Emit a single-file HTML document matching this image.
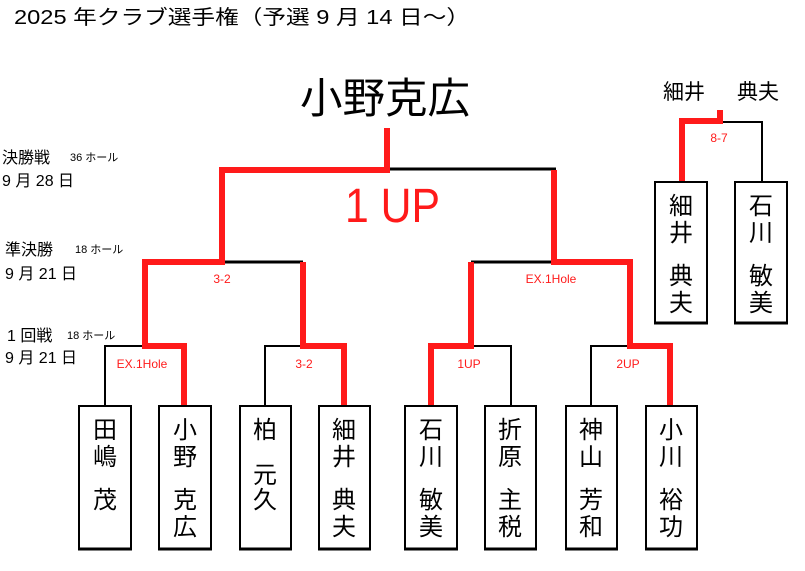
<!DOCTYPE html>
<html><head><meta charset="utf-8"><style>
html,body{margin:0;padding:0;background:#fff;}
svg{display:block;}
text{font-family:"Liberation Sans","Noto Sans CJK JP",sans-serif;}
</style></head><body>
<svg width="805" height="571" viewBox="0 0 805 571" xmlns="http://www.w3.org/2000/svg">
<rect width="805" height="571" fill="#fff"/>
<text x="14" y="24" font-size="20" fill="#000" textLength="456" lengthAdjust="spacingAndGlyphs">2025 年クラブ選手権（予選 9 月 14 日〜）</text>
<text x="300" y="113" font-size="42" fill="#000" textLength="170" lengthAdjust="spacingAndGlyphs">小野克広</text>

<text x="2" y="163" font-size="16">決勝戦</text><text x="70" y="161" font-size="11">36 ホール</text>
<text x="2" y="186" font-size="16">9 月 28 日</text>
<text x="5" y="255" font-size="16">準決勝</text><text x="75" y="253" font-size="11">18 ホール</text>
<text x="5" y="279" font-size="16">9 月 21 日</text>
<text x="7" y="341" font-size="16">1 回戦</text><text x="67" y="339" font-size="11">18 ホール</text>
<text x="5" y="363" font-size="16">9 月 21 日</text>

<g stroke="#000" fill="none" stroke-width="2">
<polyline points="105,405 105,346 145,346"/>
<polyline points="265,405 265,346 303,346"/>
<polyline points="511,405 511,346 471,346"/>
<polyline points="591,405 591,346 630,346"/>
<line x1="222" y1="262" x2="303" y2="262" stroke-width="3"/>
<line x1="471" y1="262" x2="554" y2="262" stroke-width="3"/>
<line x1="387" y1="169" x2="556" y2="169" stroke-width="3"/>
<polyline points="720,122 762,122 762,181"/>
</g>
<g stroke="#ff1a1a" fill="none" stroke-width="6" stroke-linejoin="miter">
<polyline points="184,405 184,346 145,346 145,262 222,262 222,170 387,170 387,128"/>
<polyline points="303,262 303,346 344,346 344,405"/>
<polyline points="431,405 431,346 471,346 471,262"/>
<polyline points="554,170 554,262 630,262 630,346 670,346 670,405"/>
<polyline points="682,181 682,121 720,121 720,110"/>
</g>

<g fill="#ff1a1a" font-size="12" text-anchor="middle">
<text x="142" y="368">EX.1Hole</text>
<text x="304" y="368">3-2</text>
<text x="222" y="283">3-2</text>
<text x="469" y="368">1UP</text>
<text x="628" y="368">2UP</text>
<text x="551" y="283">EX.1Hole</text>
<text x="719" y="142">8-7</text>
</g>
<text x="345" y="222" font-size="48" fill="#ff1a1a" textLength="95" lengthAdjust="spacingAndGlyphs">1 UP</text>

<text x="663" y="99" font-size="21">細井</text>
<text x="737" y="99" font-size="21">典夫</text>

<g fill="#fff" stroke="#000" stroke-width="2">
<rect x="79" y="406" width="52" height="143"/>
<rect x="159" y="406" width="52" height="143"/>
<rect x="240" y="406" width="51" height="143"/>
<rect x="319" y="406" width="51" height="143"/>
<rect x="405" y="406" width="52" height="143"/>
<rect x="485" y="406" width="51" height="143"/>
<rect x="566" y="406" width="51" height="143"/>
<rect x="646" y="406" width="51" height="143"/>
<rect x="655" y="182" width="52" height="141"/>
<rect x="735" y="182" width="52" height="141"/>
</g>
<g stroke="#000" stroke-width="3">
<line x1="78" y1="549" x2="132" y2="549"/><line x1="158" y1="549" x2="212" y2="549"/>
<line x1="239" y1="549" x2="292" y2="549"/><line x1="318" y1="549" x2="371" y2="549"/>
<line x1="404" y1="549" x2="458" y2="549"/><line x1="484" y1="549" x2="537" y2="549"/>
<line x1="565" y1="549" x2="618" y2="549"/><line x1="645" y1="549" x2="698" y2="549"/>
<line x1="654" y1="323" x2="708" y2="323"/><line x1="734" y1="323" x2="788" y2="323"/>
</g>

<g font-size="24" text-anchor="middle" fill="#000">
<text x="105" y="438">田</text><text x="105" y="465">嶋</text><text x="105" y="508">茂</text>
<text x="185" y="438">小</text><text x="185" y="465">野</text><text x="185" y="508">克</text><text x="185" y="535">広</text>
<text x="265" y="438">柏</text><text x="265" y="483">元</text><text x="265" y="508">久</text>
<text x="344" y="438">細</text><text x="344" y="465">井</text><text x="344" y="508">典</text><text x="344" y="535">夫</text>
<text x="431" y="438">石</text><text x="431" y="465">川</text><text x="431" y="508">敏</text><text x="431" y="535">美</text>
<text x="510" y="438">折</text><text x="510" y="465">原</text><text x="510" y="508">主</text><text x="510" y="535">税</text>
<text x="591" y="438">神</text><text x="591" y="465">山</text><text x="591" y="508">芳</text><text x="591" y="535">和</text>
<text x="671" y="438">小</text><text x="671" y="465">川</text><text x="671" y="508">裕</text><text x="671" y="535">功</text>
<text x="681" y="214">細</text><text x="681" y="241">井</text><text x="681" y="284">典</text><text x="681" y="311">夫</text>
<text x="761" y="214">石</text><text x="761" y="241">川</text><text x="761" y="284">敏</text><text x="761" y="311">美</text>
</g>
</svg>
</body></html>
